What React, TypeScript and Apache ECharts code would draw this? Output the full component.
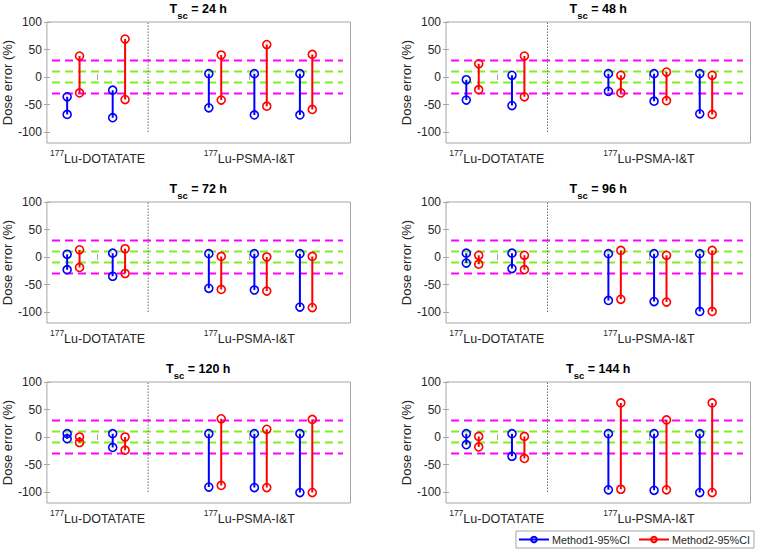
import React, { useEffect, useRef } from 'react';
import * as echarts from 'echarts';

// ---- data ----
const tscHours = [24, 48, 72, 96, 120, 144];
const categoryNames = ['Lu-DOTATATE', 'Lu-PSMA-I&T'];
const categoryIsotope = '177';
const categoryPositions = [1, 4];
const dividerX = 2;
const method1X = [0.4, 1.3, 3.2, 4.1, 5.0];
const method2X = [0.645, 1.545, 3.445, 4.345, 5.245];

// rows: panels (24, 48, 72, 96, 120, 144 h); columns: cases
const method1Upper = [
  [-36, -24, 6, 6, 6],
  [-5, 3, 6, 6, 6],
  [5, 7, 6, 6, 6],
  [7, 7, 6, 6, 6],
  [6, 6, 6, 6, 6],
  [6, 6, 6, 6, 6],
];
const method1Lower = [
  [-68, -74, -56, -69, -69],
  [-42, -52, -26, -44, -67],
  [-23, -35, -57, -60, -91],
  [-11, -21, -79, -81, -99],
  [-3, -19, -91, -92, -101],
  [-14, -35, -96, -97, -101],
];
const method2Upper = [
  [38, 69, 40, 59, 41],
  [24, 38, 3, 9, 3],
  [13, 15, 1, 0, 1],
  [3, 3, 12, 3, 12],
  [0, 0, 33, 14, 32],
  [1, 1, 62, 31, 62],
];
const method2Lower = [
  [-29, -41, -42, -53, -59],
  [-23, -36, -29, -43, -68],
  [-19, -30, -59, -62, -92],
  [-13, -23, -77, -82, -99],
  [-10, -24, -88, -92, -101],
  [-18, -39, -95, -96, -101],
];
const yTicks = [-100, -50, 0, 50, 100];
const innerLimits = [10, -10];
const outerLimits = [30, -30];
const seriesNames = ['Method1-95%CI', 'Method2-95%CI'];

// ---- style ----
const FONT = '"Liberation Sans", Arial, Helvetica, sans-serif';
const AXIS_GRAY = '#a6a6a6';
const TEXT = '#262626';
const BLUE = '#0000ff';
const RED = '#ff0000';
const MAGENTA = '#ff00ff';
const GREEN = '#80ee22';
const colLeft = [46, 446];
const rowTop = [22, 202, 382];
const W = 304.5;
const H = 121;

function intervalData(xs: number[], up: number[], lo: number[]) {
  const d: any[] = [];
  xs.forEach((x, i) => {
    d.push([x, up[i]]);
    d.push([x, lo[i]]);
    d.push([x, '-']);
  });
  return d;
}

function buildOption() {
  const grid: any[] = [];
  const xAxis: any[] = [];
  const yAxis: any[] = [];
  const series: any[] = [];
  const graphic: any[] = [];

  tscHours.forEach((h, p) => {
    const col = p % 2;
    const row = Math.floor(p / 2);
    const left = colLeft[col];
    const top = rowTop[row];
    grid.push({ left, top, width: W, height: H, show: true, borderColor: AXIS_GRAY, borderWidth: 1, backgroundColor: '#ffffff' });

    const tick = { show: true, inside: true, length: 3, lineStyle: { color: AXIS_GRAY, width: 1 } };
    xAxis.push({
      gridIndex: p, type: 'value', min: 0, max: 6, position: 'bottom',
      axisLine: { show: false }, splitLine: { show: false },
      axisTick: { ...tick, customValues: categoryPositions },
      axisLabel: {
        customValues: categoryPositions, margin: 5,
        formatter: (v: number) => `{s|${categoryIsotope}}{n|${categoryNames[categoryPositions.indexOf(v)]}}`,
        rich: {
          s: { fontSize: 8.5, lineHeight: 9, verticalAlign: 'top', color: TEXT, fontFamily: FONT },
          n: { fontSize: 12.5, lineHeight: 13, verticalAlign: 'top', padding: [4, 0, 0, 0], color: TEXT, fontFamily: FONT },
        },
      },
    });
    xAxis.push({
      gridIndex: p, type: 'value', min: 0, max: 6, position: 'top',
      axisLine: { show: false }, splitLine: { show: false },
      axisTick: { ...tick, customValues: categoryPositions },
      axisLabel: { show: false },
    });
    yAxis.push({
      gridIndex: p, type: 'value', min: -120, max: 100, position: 'left',
      name: 'Dose error (%)', nameLocation: 'middle', nameGap: 30,
      nameTextStyle: { fontSize: 13, color: TEXT, fontFamily: FONT },
      axisLine: { show: false }, splitLine: { show: false },
      axisTick: { ...tick, customValues: yTicks },
      axisLabel: { customValues: yTicks, margin: 5, fontSize: 12, color: TEXT, fontFamily: FONT },
    });
    yAxis.push({
      gridIndex: p, type: 'value', min: -120, max: 100, position: 'right',
      axisLine: { show: false }, splitLine: { show: false },
      axisTick: { ...tick, customValues: yTicks },
      axisLabel: { show: false },
    });

    const xi = 2 * p;
    const yi = 2 * p;
    const refLine = (y: number, color: string) => ({
      type: 'line', xAxisIndex: xi, yAxisIndex: yi, silent: true, symbol: 'none',
      data: [[0.1, y], [5.85, y]],
      lineStyle: { color, width: 2, type: [8, 5] },
      z: 1,
    });
    outerLimits.forEach((y) => series.push(refLine(y, MAGENTA)));
    innerLimits.forEach((y) => series.push(refLine(y, GREEN)));
    series.push({
      type: 'line', xAxisIndex: xi, yAxisIndex: yi, silent: true, symbol: 'none',
      data: [[dividerX, -100], [dividerX, 100]],
      lineStyle: { color: '#6a6a6a', width: 1, type: [1.5, 1.5] },
      z: 1,
    });

    const methodSeries = (name: string, xs: number[], up: number[], lo: number[], color: string) => ({
      type: 'line', name, xAxisIndex: xi, yAxisIndex: yi,
      data: intervalData(xs, up, lo),
      connectNulls: false,
      symbol: 'circle', symbolSize: 8, showSymbol: true,
      lineStyle: { color, width: 2 },
      itemStyle: { color: 'rgba(255,255,255,0)', borderColor: color, borderWidth: 1.6 },
      z: 3,
    });
    series.push(methodSeries(seriesNames[0], method1X, method1Upper[p], method1Lower[p], BLUE));
    series.push(methodSeries(seriesNames[1], method2X, method2Upper[p], method2Lower[p], RED));

    graphic.push({
      type: 'text', x: left + W / 2, y: top - 20,
      style: {
        text: `{t|T}{s|sc}{t| = ${h} h}`,
        align: 'center', verticalAlign: 'top',
        rich: {
          t: { fontSize: 12.5, fontWeight: 'bold', lineHeight: 13, verticalAlign: 'top', fill: '#000', fontFamily: FONT },
          s: { fontSize: 9.5, fontWeight: 'bold', lineHeight: 9, verticalAlign: 'top', padding: [8, 0, 0, 0], fill: '#000', fontFamily: FONT },
        },
      },
    });
  });

  return {
    animation: false,
    backgroundColor: '#ffffff',
    grid, xAxis, yAxis, series, graphic,
    legend: {
      data: seriesNames,
      right: 3, top: 531,
      orient: 'horizontal',
      borderColor: AXIS_GRAY, borderWidth: 1,
      padding: [3, 4, 3, 2],
      itemWidth: 30, itemHeight: 7, itemGap: 8,
      textStyle: { fontSize: 10.8, color: TEXT, fontFamily: FONT, padding: [0, 0, 0, -2] },
    },
  };
}

export default function App() {
  const ref = useRef<HTMLDivElement>(null);
  useEffect(() => {
    document.body.style.margin = '0';
    if (!ref.current) return;
    const chart = echarts.init(ref.current, null, { renderer: 'svg' });
    chart.setOption(buildOption() as any);
    return () => chart.dispose();
  }, []);
  return <div ref={ref} style={{ width: 757, height: 553 }} />;
}
